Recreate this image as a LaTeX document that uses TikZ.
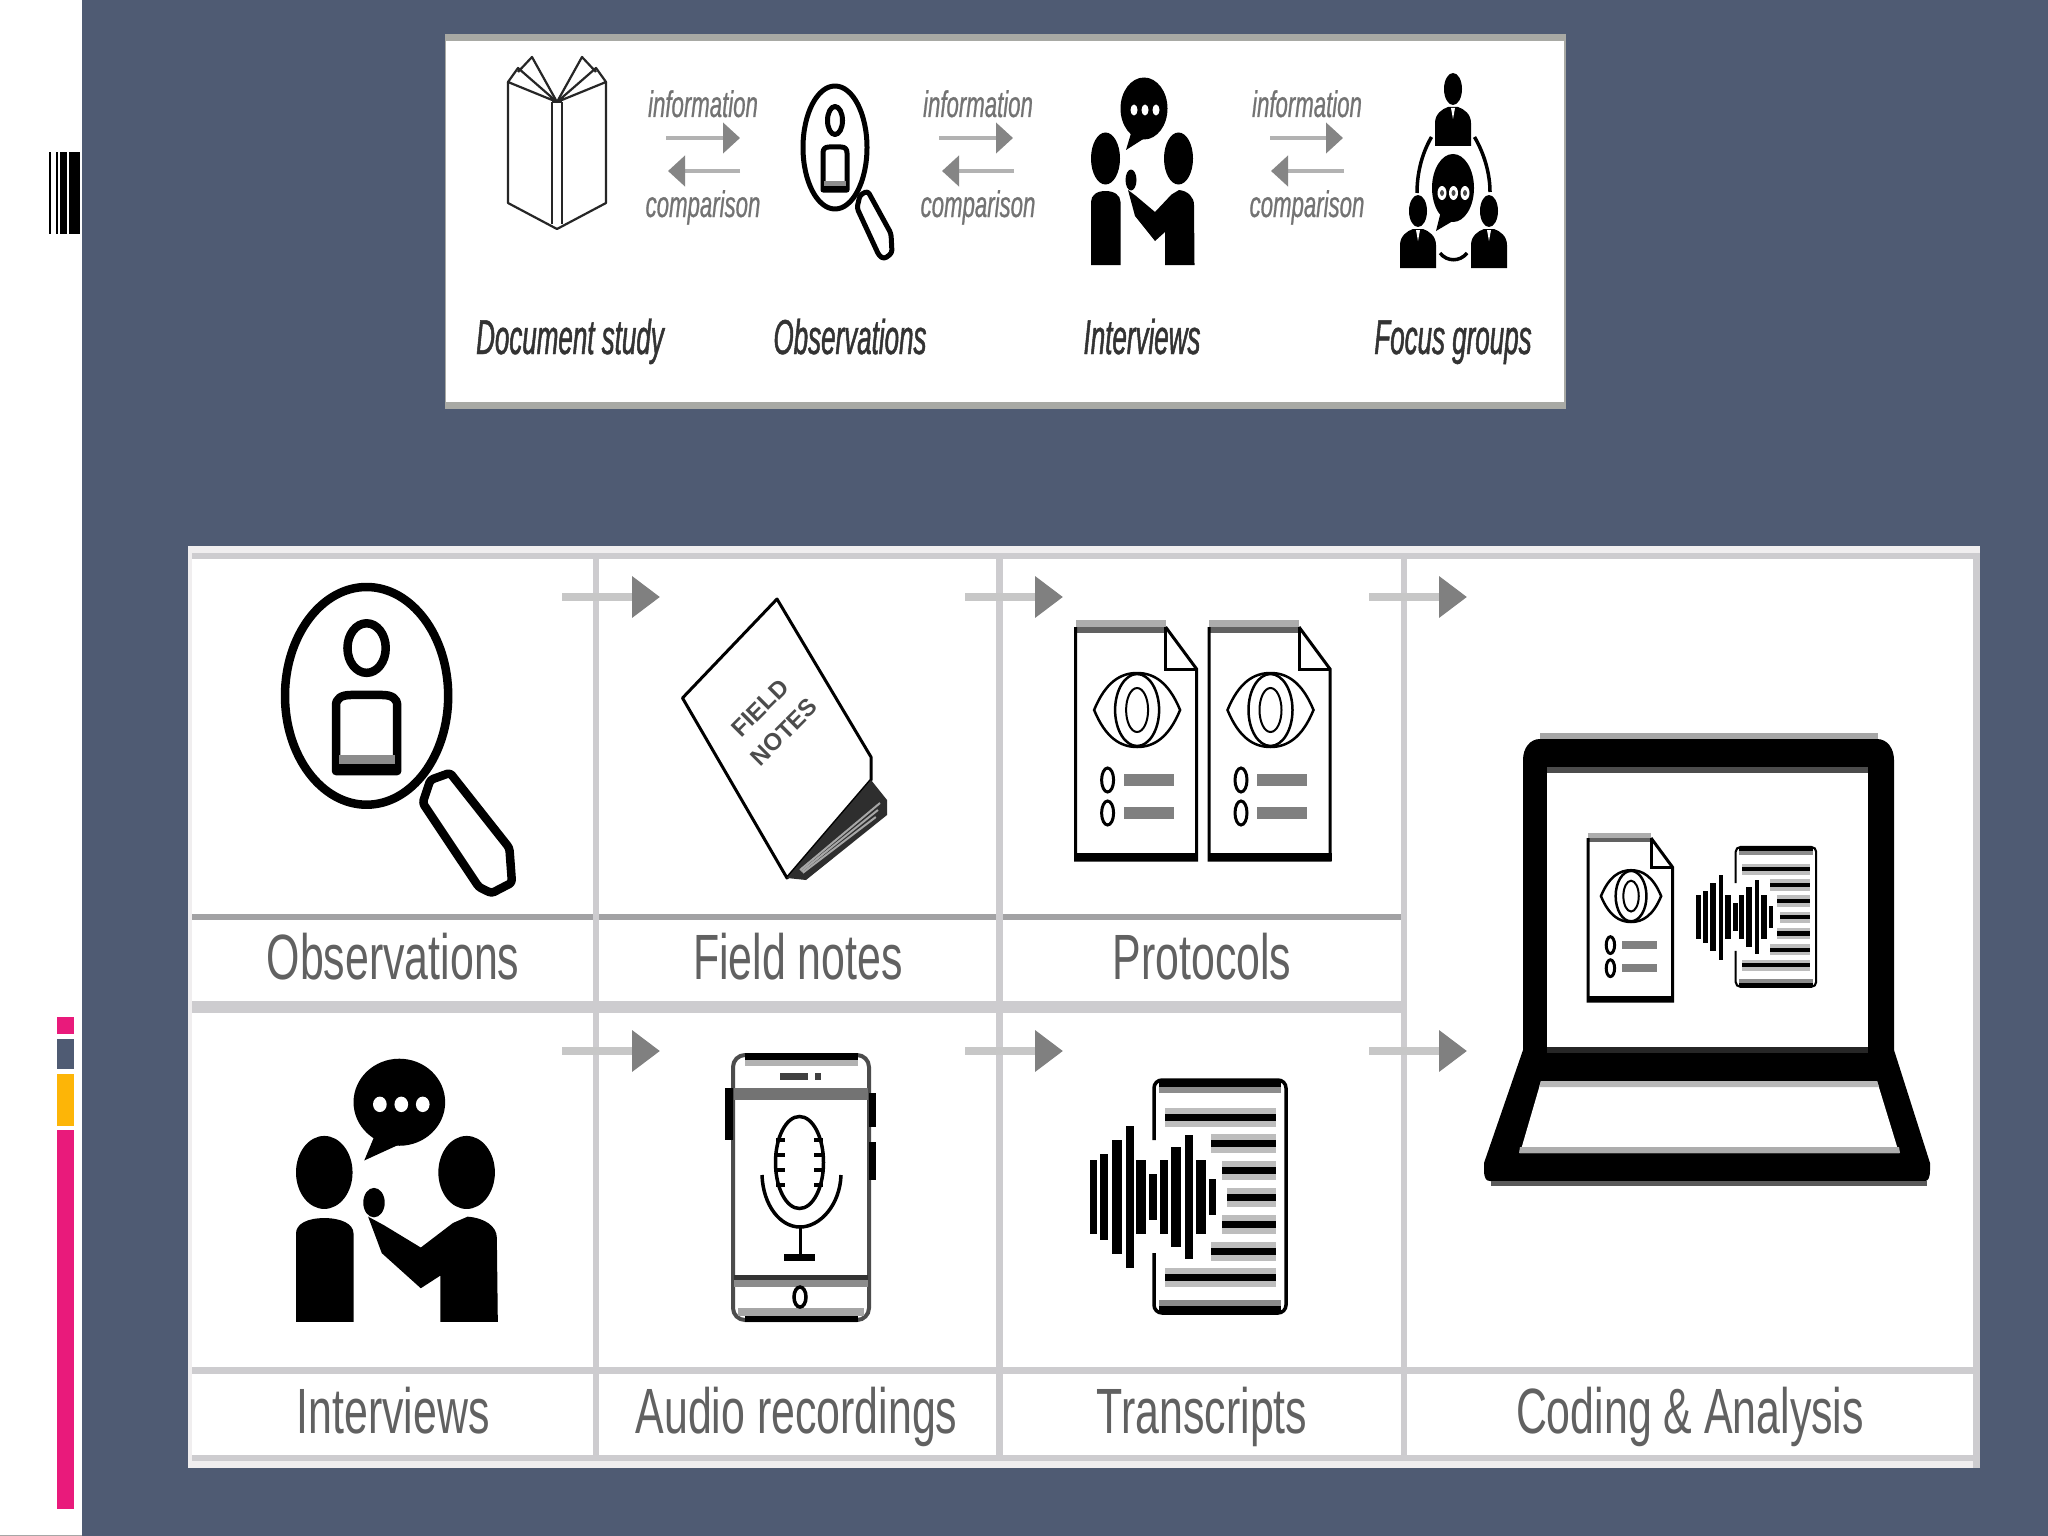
\documentclass[tikz,border=0pt]{standalone}
\usepackage{fontspec}
\setmainfont{Liberation Sans}
\newfontfamily\tablefont[FakeStretch=0.67]{Liberation Sans}
\newfontfamily\topfont[FakeStretch=0.53,FakeBold=1]{Liberation Sans}
\newfontfamily\smallfont[FakeStretch=0.60,FakeBold=0.6]{Liberation Sans}
\usetikzlibrary{arrows.meta,calc}
\definecolor{slide}{HTML}{4F5B73}
\definecolor{barpink}{HTML}{E91A7B}
\definecolor{barorange}{HTML}{FDB507}
\definecolor{bandtop}{HTML}{A8A9A4}
\definecolor{gridlight}{HTML}{CDCCCF}
\definecolor{griddark}{HTML}{A2A2A4}
\definecolor{gridpale}{HTML}{F0EEEF}
\definecolor{halo}{HTML}{BDBDBD}
\tikzset{
  tablelabel/.style={anchor=base,inner sep=0pt,text=black!62,font=\tablefont\fontsize{64}{64}\selectfont},
  toplabel/.style={anchor=base,inner sep=0pt,text=black!80,font=\topfont\itshape\fontsize{49}{49}\selectfont},
  smalllabel/.style={anchor=base,inner sep=0pt,text=black!55,font=\smallfont\itshape\fontsize{37}{37}\selectfont},
  flowarrow/.style={line width=8pt,draw=black!22,-{Triangle[length=28pt,width=40pt,color=black!50]}},
  smallarrow/.style={line width=4.5pt,draw=black!30,-{Triangle[length=17pt,width=30pt,color=black!48]}},
  outline/.style={draw=black,line join=round,fill=white},
}
% ---- reusable icons -------------------------------------------------
\newcommand\magnifyicon[1]{%
  \draw[outline,line width=#1pt,rounded corners=3pt] (867.7,191) -- (891,233.5) -- (892,253) -- (884,259) -- (879,255.5) -- (857,208) -- (860,195) -- cycle;
  \draw[outline,line width=#1pt] (835,147.5) ellipse [x radius=32,y radius=61.5];
  \draw[outline,line width=#1pt] (835,120.5) ellipse [x radius=7.5,y radius=14];
  \draw[outline,line width=#1pt] (823,190) -- (823,153) .. controls (823,149) and (825,147) .. (829,147) -- (841,147)
      .. controls (845,147) and (847,149) .. (847,153) -- (847,190) -- cycle;
  \fill[black!45] (824,181) rectangle (846,186);
  \fill (823,186) rectangle (847,191);
}
\newcommand\interviewicon{%
  \fill (1144,108.5) ellipse [x radius=23.5,y radius=31];
  \fill (1132,130) -- (1126,150) -- (1148,136) -- cycle;
  \fill[white] (1134,110) ellipse [x radius=3.5,y radius=5.5];
  \fill[white] (1145,110) ellipse [x radius=3.5,y radius=5.5];
  \fill[white] (1156,110) ellipse [x radius=3.5,y radius=5.5];
  \fill (1105.5,158.5) ellipse [x radius=14.5,y radius=26];
  \fill (1178.5,158.5) ellipse [x radius=14.5,y radius=26];
  \fill (1091,265) -- (1091,202) .. controls (1091,195) and (1097,191) .. (1105.5,191)
        .. controls (1114,191) and (1120.5,195) .. (1120.5,202) -- (1120.5,265) -- cycle;
  \fill (1165,265) -- (1165,232) -- (1155,241) -- (1135,216) -- (1128,190) -- (1136,196)
        -- (1155,212) -- (1171.5,194.5) -- (1179,190) .. controls (1188,191) and (1194,197) .. (1194,205)
        -- (1194.5,265) -- cycle;
  \fill (1131,180) ellipse [x radius=5.5,y radius=10.5];
}
\newcommand\docicon{%
  \fill[white] (0,0) -- (90,0) -- (121,42) -- (121,233) -- (0,233) -- cycle;
  \fill[black!32] (0,-7) rectangle (90,0);
  \fill[black!62] (0,0) rectangle (90,6);
  \draw[line width=3pt,line join=miter] (90,0) -- (121,42) -- (121,233) -- (0,233) -- (0,0);
  \draw[line width=3pt] (90,0) -- (90,42) -- (121,42);
  \fill (-1.5,226) rectangle (122.5,234);
  \draw[line width=2.5pt] (18.5,83) .. controls (30,55) and (45,46) .. (61.5,46)
     .. controls (78,46) and (93,55) .. (104.5,83)
     .. controls (93,111) and (78,120) .. (61.5,120)
     .. controls (45,120) and (30,111) .. (18.5,83) -- cycle;
  \draw[line width=2.5pt] (61.5,83) ellipse [x radius=22,y radius=36];
  \draw[line width=2pt] (61.5,83) ellipse [x radius=11,y radius=22];
  \draw[line width=3pt] (32,153) ellipse [x radius=6,y radius=12];
  \draw[line width=3pt] (32,186) ellipse [x radius=6,y radius=12];
  \fill[black!50] (48,147) rectangle (98,159);
  \fill[black!50] (48,180) rectangle (98,192);
}
\newcommand\transcripticon[1]{%
  % local origin: left of the wave, top of the page; 197 wide, 233 high
  \foreach \ya/\xa in {37/76,63/122,90/133,117/138,144/133,171/122,197/76}{
    \draw[draw=halo,line width=#1*19pt] (\xa,\ya) -- (187,\ya);
    \draw[line width=#1*7pt] (\xa,\ya) -- (187,\ya);
  }
  \fill[black!45] (70,3) rectangle (192,13);
  \fill (70,0) rectangle (192,7);
  \fill[black!45] (70,220) rectangle (192,228);
  \fill (70,226) rectangle (192,233);
  \draw[line width=#1*3.5pt,rounded corners=#1*8pt] (65,60) -- (65,0) -- (197,0) -- (197,233) -- (65,233) -- (65,173);
  \foreach \xb/\hb/\wb in {4/37/3.5,15/43/4,28/57/5,41/71/4,52/37/5,64/23/4,75/37/4,87/50/5,100/62/4,112/37/5,123/18/3.5}{
    \fill (\xb-\wb,117-\hb) rectangle (\xb+\wb,117+\hb);
  }
}
\newcommand\fgperson{%
  \fill (0,16) ellipse [x radius=9,y radius=16];
  \fill (-18,73) -- (-18,50) .. controls (-18,41) and (-11,36) .. (-5,34) -- (5,34)
        .. controls (11,36) and (18,41) .. (18,50) -- (18,73) -- cycle;
  \fill[white] (-2,35) -- (2,35) -- (0,46) -- cycle;
}
\begin{document}
\begin{tikzpicture}[x=1pt,y=-1pt]
\useasboundingbox (0,0) rectangle (2048,1536);
% ---- slide ---------------------------------------------------------
\fill[white] (0,0) rectangle (2048,1536);
\fill[slide] (82,0) rectangle (2048,1536);
\fill[black!35] (0,1535) rectangle (82,1536);
\fill (49,152) rectangle (51,234);
\fill (56,152) rectangle (58,234);
\fill (59.5,152) rectangle (67,234);
\fill (69,152) rectangle (80,234);
\fill[barpink] (57,1017) rectangle (74,1034);
\fill[slide] (57,1038.5) rectangle (74,1069);
\fill[barorange] (57,1074) rectangle (74,1126);
\fill[barpink] (57,1130) rectangle (74,1509);
% ---- upper panel ---------------------------------------------------
\fill[white] (444.5,34) rectangle (1566,409);
\fill[bandtop] (444.5,34) rectangle (1566,41);
\fill[bandtop] (444.5,402) rectangle (1566,409);
\fill[bandtop] (444.5,34) rectangle (446,409);
\fill[bandtop] (1564,34) rectangle (1566,409);
% book
\begin{scope}[line width=2.2pt,line join=round,draw=black!85]
  \draw (508,82) -- (508,203) -- (557,229) -- (606,203) -- (606,82);
  \draw (552,102) -- (552,224);
  \draw (562,102) -- (562,224);
  \draw (552,102) -- (562,102);
  \draw (557,102) -- (508,82) -- (518,68) -- (557,102);
  \draw (518,72) -- (532,57) -- (557,102);
  \draw (557,102) -- (606,82) -- (596,68) -- (557,102);
  \draw (596,72) -- (582,57) -- (557,102);
\end{scope}
% small magnifier
\magnifyicon{5}
% small interview
\interviewicon
% focus groups
\begin{scope}[shift={(1453,73)}]\fgperson\end{scope}
\begin{scope}[shift={(1418,195)}]\fgperson\end{scope}
\begin{scope}[shift={(1489,195)}]\fgperson\end{scope}
\draw[line width=3.5pt] (1431.5,137) .. controls (1421,155) and (1417,175) .. (1417,193);
\draw[line width=3.5pt] (1474.5,137) .. controls (1485,155) and (1490,175) .. (1490,192);
\draw[line width=3.5pt] (1440,253) .. controls (1447,262) and (1460,262) .. (1467,253);
\fill (1453,188) ellipse [x radius=21,y radius=34];
\fill (1440,215) -- (1436,231) -- (1458,218) -- cycle;
\foreach \xd in {1442,1453.5,1465}{
  \fill[white] (\xd,193) ellipse [x radius=4.5,y radius=7];
  \fill[black!70] (\xd,193) ellipse [x radius=2,y radius=3];
}
% upper labels
\node[toplabel] (tDoc) at (570,354) {Document study};
\node[toplabel] (tObs) at (850,354) {Observations};
\node[toplabel] (tInt) at (1142,354) {Interviews};
\node[toplabel] (tFoc) at (1453,354) {Focus groups};
\node[smalllabel] (infoA) at (703,117) {information};
\node[smalllabel] (infoB) at (978,117) {information};
\node[smalllabel] (infoC) at (1307,117) {information};
\node[smalllabel] (compA) at (703,217) {comparison};
\node[smalllabel] (compB) at (978,217) {comparison};
\node[smalllabel] (compC) at (1307,217) {comparison};
\coordinate (raL) at (666,138); \coordinate (raR) at (740,138);
\coordinate (laR) at (740,171); \coordinate (laL) at (668,171);
\coordinate (rbL) at (939,138); \coordinate (rbR) at (1013,138);
\coordinate (lbR) at (1014,171); \coordinate (lbL) at (942,171);
\coordinate (rcL) at (1270,138); \coordinate (rcR) at (1343,138);
\coordinate (lcR) at (1344,171); \coordinate (lcL) at (1271,171);
\draw[smallarrow] (raL) -- (raR);
\draw[smallarrow] (laR) -- (laL);
\draw[smallarrow] (rbL) -- (rbR);
\draw[smallarrow] (lbR) -- (lbL);
\draw[smallarrow] (rcL) -- (rcR);
\draw[smallarrow] (lcR) -- (lcL);
% ---- lower panel ---------------------------------------------------
\fill[white] (188,546) rectangle (1980,1468);
\fill[gridpale] (188,546) rectangle (1980,553);
\fill[gridpale] (188,1461) rectangle (1980,1468);
\fill[gridpale] (188,546) rectangle (192,1468);
\fill[gridlight] (192,553) rectangle (1973,559);
\fill[gridlight] (1973,553) rectangle (1980,1468);
\fill[griddark] (192,914) rectangle (1404,920);
\fill[gridlight] (192,1001) rectangle (1404,1013);
\fill[gridlight] (192,1367) rectangle (1973,1374);
\fill[gridlight] (192,1455) rectangle (1973,1461);
\fill[gridlight] (593,553) rectangle (599,1461);
\fill[gridlight] (996,553) rectangle (1003,1461);
\fill[gridlight] (1401,553) rectangle (1407,1461);
% flow arrows
\foreach \na/\xa in {a/562,b/965,c/1369}{
  \coordinate (up\na s) at (\xa,597);
  \coordinate (up\na e) at ($(\xa,597)+(98,0)$);
  \coordinate (lo\na s) at (\xa,1051);
  \coordinate (lo\na e) at ($(\xa,1051)+(98,0)$);
  \draw[flowarrow] (up\na s) -- (up\na e);
  \draw[flowarrow] (lo\na s) -- (lo\na e);
}
% big magnifier
\begin{scope}[shift={(285,587)},xscale=2.55,yscale=1.77,shift={(-803,-86)}]
  \magnifyicon{8.5}
\end{scope}
% field notes
\draw[line width=3pt,line join=round,fill=white] (777,599) -- (682.5,698) -- (787,878) -- (871,780) -- (871,757) -- cycle;
\fill[black!82] (871,780) -- (887,800) -- (887,815) -- (806,880) -- (787,878) -- cycle;
\foreach \ofs in {0,7,14}{
  \draw[black!35,line width=2pt] ($(880,803)+(-\ofs*0.3,\ofs)$) -- ($(800,870)+(\ofs*0.2,\ofs*0.2)$);
}
\node[rotate=45,inner sep=0pt,align=center,text=black!70,font=\bfseries\fontsize{24}{34}\selectfont] (field) at (772,720) {FIELD\\NOTES};
% protocols
\begin{scope}[shift={(1075.6,627)}]\docicon\end{scope}
\begin{scope}[shift={(1209,627)}]\docicon\end{scope}
% big interview
\begin{scope}[shift={(296,1058)},xscale=1.95,yscale=1.404,shift={(-1091,-77)}]
  \interviewicon
\end{scope}
% phone
\draw[black!70,line width=4pt,rounded corners=12pt,fill=white] (733,1055) rectangle (869,1320);
\fill (745,1053) rectangle (858,1060);
\fill[black!30] (745,1060) rectangle (858,1066);
\fill (745,1316) rectangle (858,1322);
\fill[black!35] (738,1308) rectangle (864,1316);
\fill[black!55] (734,1088) rectangle (868,1100);
\fill[black!80] (734,1275) rectangle (868,1280);
\fill[black!45] (734,1280) rectangle (868,1287);
\fill[black!75] (780,1073) rectangle (808,1080);
\fill[black!75] (815,1073) rectangle (821,1080);
\fill (725,1088) rectangle (733,1140);
\fill (869,1093) rectangle (876,1127);
\fill (869,1142) rectangle (876,1180);
\draw[line width=3.5pt] (800,1297) ellipse [x radius=6,y radius=10];
\draw[line width=3.5pt] (799.5,1162.5) ellipse [x radius=24,y radius=46];
\foreach \ym in {1140,1155,1170,1185}{
  \draw[line width=4pt] (776,\ym) -- (785,\ym);
  \draw[line width=4pt] (814,\ym) -- (823,\ym);
}
\draw[line width=3.5pt] (762,1175) .. controls (763,1205) and (780,1227) .. (800,1227)
     .. controls (820,1227) and (840,1205) .. (841,1175);
\draw[line width=3pt] (800,1227) -- (800,1257);
\draw[line width=7pt] (784,1257) -- (815,1257);
% transcript
\begin{scope}[shift={(1089,1080)}]\transcripticon{1}\end{scope}
% laptop
\fill[black!35] (1540,733) rectangle (1878,740);
\fill (1540,739) -- (1877,739) .. controls (1887,739) and (1894,748) .. (1894,760)
   -- (1894,1050) -- (1930,1163) -- (1930,1170) .. controls (1930,1178) and (1928,1181) .. (1925,1181)
   -- (1490,1181) .. controls (1486,1181) and (1484,1178) .. (1484,1170) -- (1484,1163)
   -- (1523,1050) -- (1523,760) .. controls (1523,748) and (1530,739) .. (1540,739) -- cycle;
\fill[black!65] (1491,1181) rectangle (1927,1186);
\fill[white] (1547,767) rectangle (1868,1053);
\fill[black!70] (1547,767) rectangle (1868,773);
\fill[black!85] (1547,1047) rectangle (1868,1053);
\fill[white] (1541,1081) -- (1877,1081) -- (1899,1153) -- (1520,1153) -- cycle;
\fill[black!28] (1541,1081) -- (1877,1081) -- (1879,1087) -- (1539,1087) -- cycle;
\fill[black!32] (1520,1147) -- (1899,1147) -- (1900,1153) -- (1519,1153) -- cycle;
\begin{scope}[shift={(1588,838)},xscale=0.70,yscale=0.70]\docicon\end{scope}
\begin{scope}[shift={(1696,847)},xscale=0.61,yscale=0.60]\transcripticon{0.6}\end{scope}
% lower labels
\node[tablelabel] (lObs) at (393,979) {Observations};
\node[tablelabel] (lFie) at (798,979) {Field notes};
\node[tablelabel] (lPro) at (1202,979) {Protocols};
\node[tablelabel] (lInt) at (393,1433) {Interviews};
\node[tablelabel] (lAud) at (796.5,1433) {Audio recordings};
\node[tablelabel] (lTra) at (1202,1433) {Transcripts};
\node[tablelabel] (lCod) at (1690,1433) {Coding \& Analysis};
\end{tikzpicture}
\end{document}
